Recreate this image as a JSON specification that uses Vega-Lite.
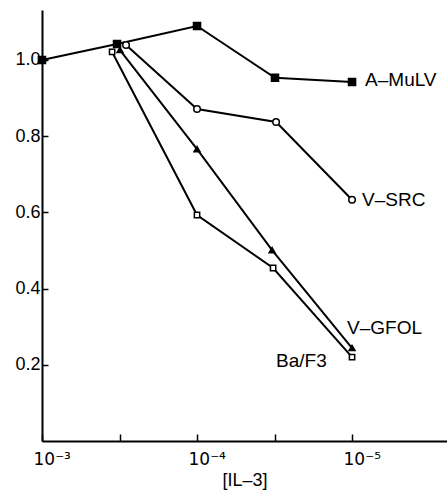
{
  "$schema": "https://vega.github.io/schema/vega-lite/v6.json",
  "width": 405,
  "height": 431,
  "autosize": "none",
  "padding": {"left": 42, "top": 10, "right": 0, "bottom": 54},
  "background": "white",
  "config": {"view": {"stroke": null}, "font": "Liberation Sans"},
  "datasets": {
    "points": [
      {"series": "A-MuLV", "conc": 0.001, "value": 1.0},
      {"series": "A-MuLV", "conc": 0.000328, "value": 1.042},
      {"series": "A-MuLV", "conc": 0.0001, "value": 1.089},
      {"series": "A-MuLV", "conc": 0.0000314, "value": 0.953},
      {"series": "A-MuLV", "conc": 0.00001, "value": 0.942},
      {"series": "V-SRC", "conc": 0.000287, "value": 1.039},
      {"series": "V-SRC", "conc": 0.0001, "value": 0.871},
      {"series": "V-SRC", "conc": 0.0000309, "value": 0.837},
      {"series": "V-SRC", "conc": 0.00001, "value": 0.633},
      {"series": "V-GFOL", "conc": 0.000314, "value": 1.026},
      {"series": "V-GFOL", "conc": 0.0001, "value": 0.766},
      {"series": "V-GFOL", "conc": 0.0000328, "value": 0.501},
      {"series": "V-GFOL", "conc": 0.00001, "value": 0.244},
      {"series": "Ba/F3", "conc": 0.000353, "value": 1.021},
      {"series": "Ba/F3", "conc": 0.0001, "value": 0.593},
      {"series": "Ba/F3", "conc": 0.0000323, "value": 0.454},
      {"series": "Ba/F3", "conc": 0.00001, "value": 0.22}
    ],
    "labels": [
      {"text": "A–MuLV", "conc": 0.00000824, "value": 0.948},
      {"text": "V–SRC", "conc": 0.00000861, "value": 0.633},
      {"text": "V–GFOL", "conc": 0.00001076, "value": 0.297},
      {"text": "Ba/F3", "conc": 0.0000309, "value": 0.21}
    ]
  },
  "encoding": {
    "x": {
      "field": "conc",
      "type": "quantitative",
      "scale": {"type": "log", "domain": [0.00000244, 0.001], "reverse": true, "nice": false},
      "axis": {
        "title": "[IL–3]",
        "titleFont": "Liberation Sans",
        "titleFontSize": 18,
        "titleFontWeight": "normal",
        "titleColor": "black",
        "titlePadding": 4,
        "values": [0.001, 0.000316, 0.0001, 0.0000316, 0.00001],
        "labelExpr": "datum.value >= 0.0009 && datum.value <= 0.0011 ? '10⁻³' : (datum.value >= 0.00009 && datum.value <= 0.00011 ? '10⁻⁴' : (datum.value >= 0.000009 && datum.value <= 0.000011 ? '10⁻⁵' : ''))",
        "labelFont": "DejaVu Sans",
        "labelFontSize": 17,
        "labelColor": "black",
        "labelAlign": "left",
        "labelOffset": -9,
        "labelPadding": 17,
        "labelFlush": false,
        "tickSize": -7,
        "tickWidth": 1.5,
        "tickColor": "black",
        "domainColor": "black",
        "domainWidth": 2,
        "grid": false
      }
    },
    "y": {
      "field": "value",
      "type": "quantitative",
      "scale": {"domain": [0, 1.131], "nice": false, "zero": true},
      "axis": {
        "title": null,
        "values": [0.2, 0.4, 0.6, 0.8, 1.0],
        "format": ".1f",
        "labelFontSize": 18,
        "labelColor": "black",
        "labelPadding": 8,
        "tickSize": -6,
        "tickWidth": 1.5,
        "tickColor": "black",
        "domainColor": "black",
        "domainWidth": 2,
        "grid": false
      }
    }
  },
  "layer": [
    {
      "data": {"name": "points"},
      "mark": {"type": "line", "color": "black", "strokeWidth": 2},
      "encoding": {"detail": {"field": "series"}}
    },
    {
      "data": {"name": "points"},
      "mark": {"type": "point", "stroke": "black", "strokeWidth": 1.5, "opacity": 1},
      "encoding": {
        "shape": {"field": "series", "type": "nominal", "scale": {"domain": ["A-MuLV", "V-SRC", "V-GFOL", "Ba/F3"], "range": ["square", "circle", "triangle-up", "square"]}, "legend": null},
        "fill": {"field": "series", "type": "nominal", "scale": {"domain": ["A-MuLV", "V-SRC", "V-GFOL", "Ba/F3"], "range": ["black", "white", "black", "white"]}, "legend": null},
        "size": {"field": "series", "type": "nominal", "scale": {"domain": ["A-MuLV", "V-SRC", "V-GFOL", "Ba/F3"], "range": [50, 28, 60, 32]}, "legend": null}
      }
    },
    {
      "data": {"name": "labels"},
      "mark": {"type": "text", "align": "left", "baseline": "middle", "fontSize": 19, "color": "black", "font": "Liberation Sans"},
      "encoding": {"text": {"field": "text"}}
    }
  ]
}
